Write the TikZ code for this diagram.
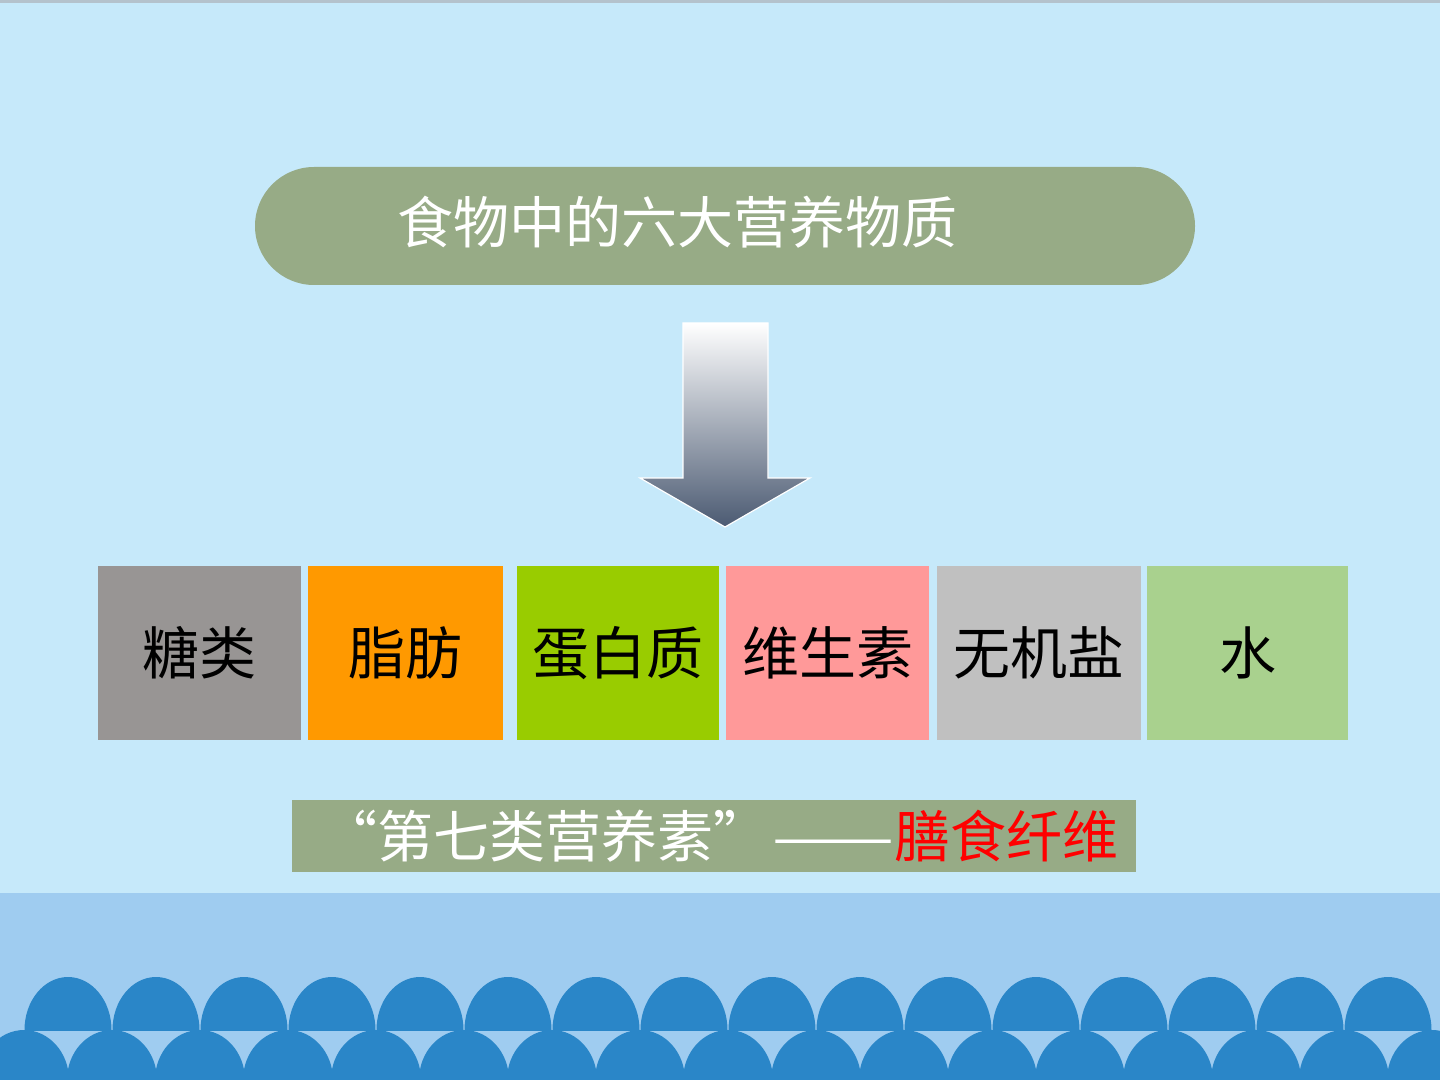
\documentclass[tikz,border=0pt]{standalone}
\usepackage{fontspec}
\setmainfont{Noto Sans CJK SC}
\definecolor{bgblue}{HTML}{C6E9FA}
\definecolor{topline}{HTML}{B4C2CC}
\definecolor{band}{HTML}{9FCCF0}
\definecolor{scallop}{HTML}{2A86C8}
\definecolor{sage}{HTML}{97AB86}
\definecolor{arrowdark}{HTML}{4B5A72}
\definecolor{c1}{HTML}{989594}
\definecolor{c2}{HTML}{FF9900}
\definecolor{c3}{HTML}{99CC00}
\definecolor{c4}{HTML}{FF9999}
\definecolor{c5}{HTML}{C0C0C0}
\definecolor{c6}{HTML}{A9D18E}
\definecolor{redtext}{HTML}{FF0000}
\tikzset{
  cbox/.style={rectangle, inner sep=0pt, minimum height=87pt, text=black,
    font=\fontsize{28.5}{34}\selectfont},
  whitetext/.style={text=white, inner sep=0pt, font=\fontsize{28}{34}\selectfont},
}
\begin{document}
\begin{tikzpicture}[x=0.5pt,y=-0.5pt]
\useasboundingbox (0,0) rectangle (1440,1080);
\fill[bgblue] (0,0) rectangle (1440,1080);
\fill[topline] (0,0) rectangle (1440,3);
\fill[band] (0,893) rectangle (1440,1080);
\begin{scope}
  \clip (0,893) rectangle (1440,1030);
  \foreach \k in {0,...,15}
    \fill[scallop] ({68+88*\k},1030) ellipse [x radius=43.5, y radius=53];
\end{scope}
\begin{scope}
  \clip (0,1030) rectangle (1440,1080);
  \foreach \k in {0,...,16}
    \fill[scallop] ({24+88*\k},1080) ellipse [x radius=45, y radius=50];
\end{scope}
% title
\node[fill=sage, rectangle, rounded corners=29.5pt, minimum width=470pt,
      minimum height=59pt, inner sep=0pt] (title) at (725,226) {};
\node[whitetext] (titletext) at (677,222) {食物中的六大营养物质};
% arrow
\shadedraw[top color=white, bottom color=arrowdark, draw=white, line width=0.6pt]
  (683,323) -- (768,323) -- (768,478) -- (810,478) -- (725,527)
  -- (640,478) -- (683,478) -- cycle;
% boxes
\node[cbox, fill=c1, minimum width=101.5pt] (b1) at (199.5,653) {\raisebox{-2pt}{糖类}};
\node[cbox, fill=c2, minimum width=97.5pt] (b2) at (405.5,653) {\raisebox{-2pt}{脂肪}};
\node[cbox, fill=c3, minimum width=101pt] (b3) at (618,653) {\raisebox{-2pt}{蛋白质}};
\node[cbox, fill=c4, minimum width=101.5pt] (b4) at (827.5,653) {\raisebox{-2pt}{维生素}};
\node[cbox, fill=c5, minimum width=102pt] (b5) at (1039,653) {\raisebox{-2pt}{无机盐}};
\node[cbox, fill=c6, minimum width=100.5pt] (b6) at (1247.5,653) {\raisebox{-2pt}{水}};
% banner
\node[fill=sage, rectangle, minimum width=422pt, minimum height=36pt,
      inner sep=0pt] (banner) at (714,836) {};
\node[whitetext, anchor=west] (bannerleft) at (321,836) {“第七类营养素”};
\node[whitetext, anchor=east] (bannerright) at (1119,836)
  {\scalebox{1.3}[1]{——}\textcolor{redtext}{膳食纤维}};
\end{tikzpicture}
\end{document}
